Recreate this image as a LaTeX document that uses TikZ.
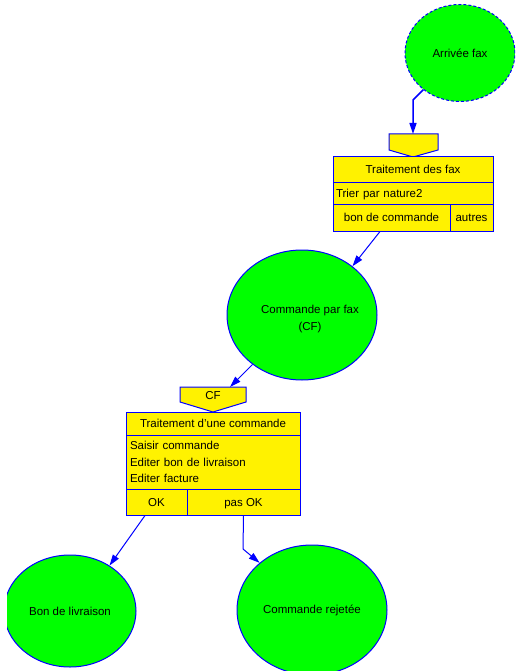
\documentclass[tikz,border=0pt]{standalone}
\usepackage{fontspec}
\setmainfont{Liberation Sans}
\usetikzlibrary{arrows.meta,shapes.geometric}
\tikzset{
  txtfont/.style={font=\fontsize{11.5}{16.5}\selectfont},
  ell/.style={ellipse, draw=blue, fill=green, line width=1pt, inner sep=0pt, txtfont},
  cell/.style={rectangle, draw=blue, fill=yellow, line width=1pt, inner sep=0pt, txtfont},
  onel/.style={text height=10pt, text depth=1.8pt},
  lbl/.style={txtfont, align=center, inner sep=0pt},
  flow/.style={draw=blue, line width=1pt, -{Triangle[length=11pt,width=7pt]}},
  trigshape/.style={draw=blue, fill=yellow, line width=1pt},
}
\begin{document}
\begin{tikzpicture}[x=1pt,y=-1pt]
\useasboundingbox (0,0) rectangle (515,671);
\begin{scope}
\clip (7,0) rectangle (515,671);
% top ellipse
\node[ell, dash pattern=on 3pt off 2pt, minimum width=110pt, minimum height=97pt] (arr) at (460,53) {Arrivée fax};
% trigger 1
\draw[trigshape] (389,134) -- (438,134) -- (438,150) -- (413,157) -- (389,150) -- cycle;
\coordinate (t1) at (413,134);
% box 1
\node[cell, onel, minimum width=160pt, minimum height=25pt] (fxt) at (413,169.5) {Traitement des fax};
\node[cell, onel, minimum width=160pt, minimum height=22pt, text width=154pt, align=left] (fxr) at (413,193) {Trier par nature2};
\node[cell, onel, minimum width=117pt, minimum height=27pt] (fxb) at (391.5,217.5) {bon de commande};
\node[cell, onel, minimum width=43pt, minimum height=27pt] (fxa) at (471.5,217.5) {autres};
% middle ellipse
\node[ell, minimum width=150pt, minimum height=130pt] (cf) at (302,315) {};
\node[lbl] (cftx) at (310,319) {Commande par fax\\(CF)};
% trigger 2
\draw[trigshape] (180,387) -- (246,387) -- (246,402) -- (213,412) -- (180,402) -- cycle;
\node[lbl] (cft) at (213,396) {CF};
\coordinate (t2) at (230,387);
% box 2
\node[cell, onel, minimum width=174pt, minimum height=23pt] (cmt) at (213,423.5) {Traitement d'une commande};
\node[cell, minimum width=174pt, minimum height=54pt, text width=166pt, align=left] (cmb) at (213,462) {Saisir commande\\Editer bon de livraison\\Editer facture};
\node[cell, onel, minimum width=61pt, minimum height=26pt] (ok) at (156.5,502) {OK};
\node[cell, onel, minimum width=113pt, minimum height=26pt] (pok) at (243.5,502) {pas OK};
% bottom ellipses
\node[ell, minimum width=132pt, minimum height=112pt] (bl) at (70,611) {Bon de livraison};
\node[ell, minimum width=150pt, minimum height=130pt] (rj) at (312,610) {Commande rejetée};
% connectors
\coordinate (b1) at (413,100);
\draw[flow, line width=1.5pt] (arr.225) -- (b1) -- (t1);
\draw[flow] ([xshift=-11.5pt]fxb.south) -- (cf.44);
\draw[flow] (cf.225) -- (t2);
\draw[flow] ([xshift=-11.5pt]ok.south) -- (bl.49);
\coordinate (b2) at (243,549);
\draw[flow] (pok.south) -- (b2) -- (rj.138);
\end{scope}
\end{tikzpicture}
\end{document}
